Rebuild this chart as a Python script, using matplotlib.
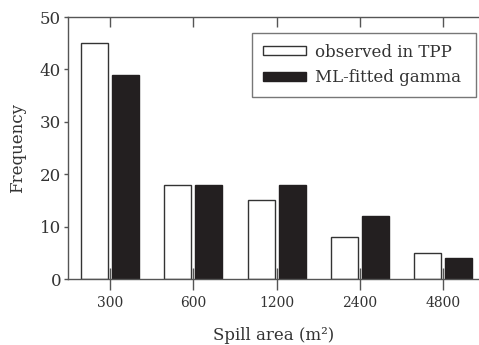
import matplotlib
matplotlib.use("Agg")
import matplotlib.pyplot as plt
import numpy as np

categories = ["300", "600", "1200", "2400", "4800"]
observed = [45, 18, 15, 8, 5]
fitted = [39, 18, 18, 12, 4]
yticks = [0, 10, 20, 30, 40, 50]

plt.rcParams['font.family'] = ['DejaVu Serif']

fig = plt.figure(figsize=(4.79, 3.45), dpi=100)
ax = fig.add_axes([68/479, 1-279/345, (479-68)/479, (279-17)/345])

x = np.arange(len(categories))
w = 0.325
off = 0.186
ax.bar(x - off, observed, width=w, facecolor='white', edgecolor='#333333', linewidth=1.0,
       label='observed in TPP', zorder=2)
ax.bar(x + off, fitted, width=w, facecolor='#231f20', edgecolor='#231f20', linewidth=1.0,
       label='ML-fitted gamma', zorder=2)

ax.set_xlim(-0.505, 4.43)
ax.set_ylim(0, 50)
ax.set_yticks(yticks)
ax.set_xticks(x)
ax.set_xticklabels(categories)

ax.spines['right'].set_visible(False)
for s in ['left', 'bottom', 'top']:
    ax.spines[s].set_color('#555555')
    ax.spines[s].set_linewidth(1.0)

ax.tick_params(axis='y', direction='out', length=3, width=1, color='#555555',
               labelsize=12, labelcolor='#333333', pad=2)
ax.tick_params(axis='x', direction='inout', length=16, width=1, color='#555555',
               labelsize=10, labelcolor='#333333', pad=4, top=True)
for t in ax.xaxis.get_major_ticks():
    t.tick2line.set_markersize(7)
    t.tick2line.set_marker(3)  # TICKDOWN

ax.set_ylabel('Frequency', fontsize=12, color='#333333', labelpad=10)
ax.set_xlabel('Spill area (m²)', fontsize=12, color='#333333', labelpad=12.5)

leg = ax.legend(loc='upper left', bbox_to_anchor=(252/479, 1-33/345, 224/479, 0.0),
                bbox_transform=fig.transFigure, mode='expand',
                fontsize=12, frameon=True, fancybox=False, borderpad=0.65,
                handlelength=2.6, handleheight=0.45, handletextpad=0.55, labelspacing=0.5,
                borderaxespad=0)
leg.get_frame().set_edgecolor('#555555')
leg.get_frame().set_linewidth(1.0)
for t in leg.get_texts():
    t.set_color('#333333')

fig.savefig('out.png', dpi=100)
